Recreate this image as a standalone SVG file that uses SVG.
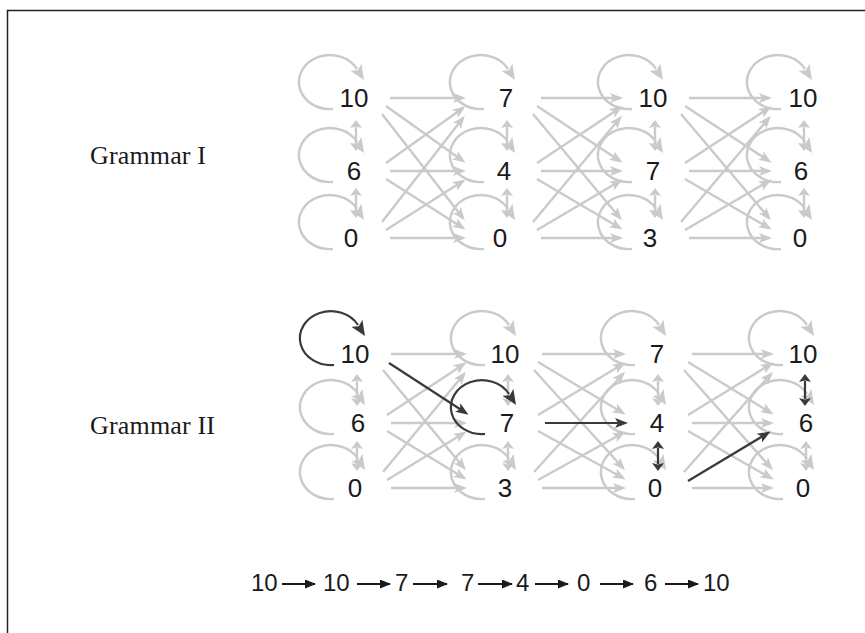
<svg xmlns="http://www.w3.org/2000/svg" width="865" height="633" viewBox="0 0 865 633">
  <style>
    .g { fill: none; stroke: #cacaca; stroke-width: 2.4; }
    .d { fill: none; stroke: #3a3a3a; stroke-width: 2.2; }
    .g.x { marker-end: url(#ah-g); }
    .d.x { marker-end: url(#ah-d); }
    .g.lp { marker-end: url(#lp-g); }
    .d.lp { marker-end: url(#lp-d); }
    .g.db { marker-start: url(#db-g); marker-end: url(#db-g); }
    .d.db { marker-start: url(#db-d); marker-end: url(#db-d); }
    .sq { fill: none; stroke: #1a1a1a; stroke-width: 2; marker-end: url(#sq); }
    .lbl { font-family: "Liberation Sans", Arial, sans-serif; font-size: 26px; fill: #1a1a1a; text-anchor: middle; }
    .seq { font-family: "Liberation Sans", Arial, sans-serif; font-size: 24px; fill: #1a1a1a; }
    .title { font-family: "Liberation Serif", "Times New Roman", serif; font-size: 26px; fill: #1a1a1a; }
  </style>
  <defs>
    <marker id="ah-g" viewBox="0 0 13 10" refX="10" refY="5" markerWidth="13" markerHeight="10" markerUnits="userSpaceOnUse" orient="auto">
      <path d="M0,0 L13,5 L0,10 L3,5 z" fill="#cacaca"/>
    </marker>
    <marker id="ah-d" viewBox="0 0 13 10" refX="10" refY="5" markerWidth="13" markerHeight="10" markerUnits="userSpaceOnUse" orient="auto">
      <path d="M0,0 L13,5 L0,10 L3,5 z" fill="#3a3a3a"/>
    </marker>
    <marker id="lp-g" viewBox="0 0 15 13" refX="2" refY="6.5" markerWidth="15" markerHeight="13" markerUnits="userSpaceOnUse" orient="auto">
      <path d="M0,0 L15,6.5 L0,13 L3.5,6.5 z" fill="#cacaca"/>
    </marker>
    <marker id="lp-d" viewBox="0 0 15 13" refX="2" refY="6.5" markerWidth="15" markerHeight="13" markerUnits="userSpaceOnUse" orient="auto">
      <path d="M0,0 L15,6.5 L0,13 L3.5,6.5 z" fill="#3a3a3a"/>
    </marker>
    <marker id="db-g" viewBox="0 0 8 12" refX="1" refY="6" markerWidth="8" markerHeight="12" markerUnits="userSpaceOnUse" orient="auto-start-reverse">
      <path d="M0,0 L8,6 L0,12 L1.5,6 z" fill="#cacaca"/>
    </marker>
    <marker id="db-d" viewBox="0 0 8 12" refX="1" refY="6" markerWidth="8" markerHeight="12" markerUnits="userSpaceOnUse" orient="auto-start-reverse">
      <path d="M0,0 L8,6 L0,12 L1.5,6 z" fill="#3a3a3a"/>
    </marker>
    <marker id="sq" viewBox="0 0 11 9" refX="10" refY="4.5" markerWidth="11" markerHeight="9" markerUnits="userSpaceOnUse" orient="auto">
      <path d="M0,0 L11,4.5 L0,9 z" fill="#1a1a1a"/>
    </marker>
  </defs>

  <rect x="0" y="0" width="865" height="633" fill="#ffffff"/>
  <!-- frame -->
  <rect x="7.5" y="10.5" width="880" height="650" fill="none" stroke="#222222" stroke-width="1.5"/>

  <text class="title" x="90" y="164" textLength="116">Grammar I</text>
  <text class="title" x="90" y="434" textLength="125">Grammar II</text>

  <g id="connectors">
    <!-- Grammar I: self loops -->
    <path class="g lp" d="M333,109 A31 27 0 1 1 357,69"/>
    <path class="g lp" d="M333,182 A31 27 0 1 1 357,142"/>
    <path class="g lp" d="M333,249 A31 27 0 1 1 357,209"/>
    <path class="g lp" d="M484,109 A31 27 0 1 1 508,69"/>
    <path class="g lp" d="M484,182 A31 27 0 1 1 508,142"/>
    <path class="g lp" d="M484,249 A31 27 0 1 1 508,209"/>
    <path class="g lp" d="M632,109 A31 27 0 1 1 656,69"/>
    <path class="g lp" d="M632,182 A31 27 0 1 1 656,142"/>
    <path class="g lp" d="M632,249 A31 27 0 1 1 656,209"/>
    <path class="g lp" d="M781,109 A31 27 0 1 1 805,69"/>
    <path class="g lp" d="M781,182 A31 27 0 1 1 805,142"/>
    <path class="g lp" d="M781,249 A31 27 0 1 1 805,209"/>

    <!-- Grammar I: column transitions -->
    <path class="g x" d="M390,98 L463,98"/>
    <path class="g x" d="M386,106 L463,161"/>
    <path class="g x" d="M382,114 L463,218"/>
    <path class="g x" d="M386,163 L463,108"/>
    <path class="g x" d="M390,171 L463,171"/>
    <path class="g x" d="M386,179 L463,228"/>
    <path class="g x" d="M382,222 L463,118"/>
    <path class="g x" d="M386,230 L463,181"/>
    <path class="g x" d="M390,238 L463,238"/>

    <path class="g x" d="M541,98 L620,98"/>
    <path class="g x" d="M537,106 L620,161"/>
    <path class="g x" d="M533,114 L620,218"/>
    <path class="g x" d="M537,163 L620,108"/>
    <path class="g x" d="M541,171 L620,171"/>
    <path class="g x" d="M537,179 L620,228"/>
    <path class="g x" d="M533,222 L620,118"/>
    <path class="g x" d="M537,230 L620,181"/>
    <path class="g x" d="M541,238 L620,238"/>

    <path class="g x" d="M689,98 L769,98"/>
    <path class="g x" d="M685,106 L769,161"/>
    <path class="g x" d="M681,114 L769,218"/>
    <path class="g x" d="M685,163 L769,108"/>
    <path class="g x" d="M689,171 L769,171"/>
    <path class="g x" d="M685,179 L769,228"/>
    <path class="g x" d="M681,222 L769,118"/>
    <path class="g x" d="M685,230 L769,181"/>
    <path class="g x" d="M689,238 L769,238"/>

    <!-- Grammar I: steps within a column -->
    <path class="g db" d="M356,127 L356,144"/>
    <path class="g db" d="M356,195 L356,211"/>
    <path class="g db" d="M507,127 L507,144"/>
    <path class="g db" d="M507,195 L507,211"/>
    <path class="g db" d="M655,127 L655,144"/>
    <path class="g db" d="M655,195 L655,211"/>
    <path class="g db" d="M804,127 L804,144"/>
    <path class="g db" d="M804,195 L804,211"/>

    <!-- Grammar II: self loops -->
    <path class="g lp" d="M334,434 A31 27 0 1 1 358,394"/>
    <path class="g lp" d="M334,499 A31 27 0 1 1 358,459"/>
    <path class="g lp" d="M485,365 A31 27 0 1 1 509,325"/>
    <path class="g lp" d="M485,499 A31 27 0 1 1 509,459"/>
    <path class="g lp" d="M635,365 A31 27 0 1 1 659,325"/>
    <path class="g lp" d="M635,434 A31 27 0 1 1 659,394"/>
    <path class="g lp" d="M635,499 A31 27 0 1 1 659,459"/>
    <path class="g lp" d="M783,365 A31 27 0 1 1 807,325"/>
    <path class="g lp" d="M783,434 A31 27 0 1 1 807,394"/>
    <path class="g lp" d="M783,499 A31 27 0 1 1 807,459"/>

    <!-- Grammar II: column transitions -->
    <path class="g x" d="M391,354 L464,354"/>
    <path class="g x" d="M383,370 L464,468"/>
    <path class="g x" d="M387,415 L464,364"/>
    <path class="g x" d="M391,423 L464,423"/>
    <path class="g x" d="M387,431 L464,478"/>
    <path class="g x" d="M383,472 L464,374"/>
    <path class="g x" d="M387,480 L464,433"/>
    <path class="g x" d="M391,488 L464,488"/>

    <path class="g x" d="M542,354 L623,354"/>
    <path class="g x" d="M538,362 L623,413"/>
    <path class="g x" d="M534,370 L623,468"/>
    <path class="g x" d="M538,415 L623,364"/>
    <path class="g x" d="M538,431 L623,478"/>
    <path class="g x" d="M534,472 L623,374"/>
    <path class="g x" d="M538,480 L623,433"/>
    <path class="g x" d="M542,488 L623,488"/>

    <path class="g x" d="M692,354 L771,354"/>
    <path class="g x" d="M688,362 L771,413"/>
    <path class="g x" d="M684,370 L771,468"/>
    <path class="g x" d="M688,415 L771,364"/>
    <path class="g x" d="M692,423 L771,423"/>
    <path class="g x" d="M688,431 L771,478"/>
    <path class="g x" d="M684,472 L771,374"/>
    <path class="g x" d="M692,488 L771,488"/>

    <!-- Grammar II: steps within a column -->
    <path class="g db" d="M357,381 L357,399"/>
    <path class="g db" d="M357,448 L357,464"/>
    <path class="g db" d="M508,381 L508,399"/>
    <path class="g db" d="M508,448 L508,464"/>
    <path class="g db" d="M658,381 L658,399"/>
    <path class="g db" d="M806,448 L806,464"/>

    <!-- Grammar II: highlighted path 10,10,7,7,4,0,6,10 -->
    <path class="d lp" d="M334,365 A31 27 0 1 1 358,325"/>
    <path class="d x" d="M389,363 L466,413"/>
    <path class="d lp" d="M485,434 A31 27 0 1 1 509,394"/>
    <path class="d x" d="M545,423 L625,423"/>
    <path class="d db" d="M658,448 L658,464"/>
    <path class="d x" d="M688,481 L768,433"/>
    <path class="d db" d="M805,381 L805,399"/>
  </g>

  <!-- Grammar I nodes -->
  <g id="g1-c1-10"><text class="lbl" x="354" y="107">10</text></g>
  <g id="g1-c1-6"><text class="lbl" x="354" y="180">6</text></g>
  <g id="g1-c1-0"><text class="lbl" x="351" y="247">0</text></g>
  <g id="g1-c2-7"><text class="lbl" x="506" y="107">7</text></g>
  <g id="g1-c2-4"><text class="lbl" x="504" y="180">4</text></g>
  <g id="g1-c2-0"><text class="lbl" x="500" y="247">0</text></g>
  <g id="g1-c3-10"><text class="lbl" x="653" y="107">10</text></g>
  <g id="g1-c3-7"><text class="lbl" x="653" y="180">7</text></g>
  <g id="g1-c3-3"><text class="lbl" x="650" y="247">3</text></g>
  <g id="g1-c4-10"><text class="lbl" x="803" y="107">10</text></g>
  <g id="g1-c4-6"><text class="lbl" x="801" y="180">6</text></g>
  <g id="g1-c4-0"><text class="lbl" x="800" y="247">0</text></g>

  <!-- Grammar II nodes -->
  <g id="g2-c1-10"><text class="lbl" x="355" y="363">10</text></g>
  <g id="g2-c1-6"><text class="lbl" x="358" y="432">6</text></g>
  <g id="g2-c1-0"><text class="lbl" x="355" y="497">0</text></g>
  <g id="g2-c2-10"><text class="lbl" x="505" y="363">10</text></g>
  <g id="g2-c2-7"><text class="lbl" x="507" y="432">7</text></g>
  <g id="g2-c2-3"><text class="lbl" x="505" y="497">3</text></g>
  <g id="g2-c3-7"><text class="lbl" x="657" y="363">7</text></g>
  <g id="g2-c3-4"><text class="lbl" x="657" y="432">4</text></g>
  <g id="g2-c3-0"><text class="lbl" x="655" y="497">0</text></g>
  <g id="g2-c4-10"><text class="lbl" x="803" y="363">10</text></g>
  <g id="g2-c4-6"><text class="lbl" x="806" y="432">6</text></g>
  <g id="g2-c4-0"><text class="lbl" x="803" y="497">0</text></g>

  <!-- resulting sequence -->
  <g id="sequence">
    <text class="seq" x="251" y="591">10</text>
    <text class="seq" x="323" y="591">10</text>
    <text class="seq" x="395" y="591">7</text>
    <text class="seq" x="461" y="591">7</text>
    <text class="seq" x="516" y="591">4</text>
    <text class="seq" x="577" y="591">0</text>
    <text class="seq" x="644" y="591">6</text>
    <text class="seq" x="703" y="591">10</text>
    <path class="sq" d="M282,584 L315,584"/>
    <path class="sq" d="M357,584 L390,584"/>
    <path class="sq" d="M413,584 L447,584"/>
    <path class="sq" d="M478,584 L512,584"/>
    <path class="sq" d="M535,584 L568,584"/>
    <path class="sq" d="M600,584 L633,584"/>
    <path class="sq" d="M665,584 L698,584"/>
  </g>
</svg>
